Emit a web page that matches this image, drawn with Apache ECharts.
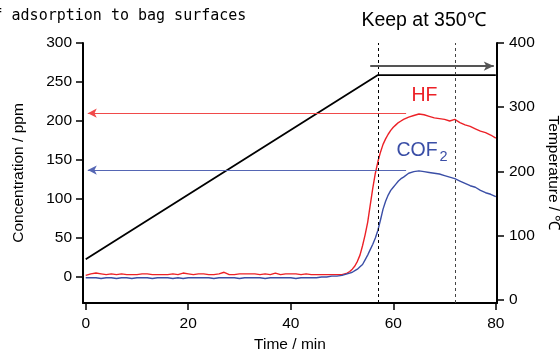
<!DOCTYPE html>
<html>
<head>
<meta charset="utf-8">
<script src="https://cdn.jsdelivr.net/npm/echarts@6/dist/echarts.min.js"></script>
<style>
html,body{margin:0;padding:0;background:#fff;}
#c{width:560px;height:349px;}
</style>
</head>
<body>
<div id="c"></div>
<script>
// ---- data ----
const times = [
  0,1,2,3,4,5,6,7,8,9,10,11,12,13,14,15,16,17,18,19,20,21,22,23,24,25,26,27,28,29,
  30,31,32,33,34,35,36,37,38,39,40,41,42,43,44,45,46,47,48,49,
  50,50.5,51,51.5,52,52.5,53,53.5,54,54.5,55,55.5,56,56.5,57,57.5,58,58.5,59,59.5,60,60.5,61,61.5,62,
  63,64,65,66,67,68,69,70,71,72,73,74,75,76,77,78,79,80
];
const hfValues = [
  2,4,5,4,3,4,3,4,3,3, 3,4,4,3,3,3,3,4,3,5, 4,3,4,4,3,3,4,6,3,3,
  4,4,4,4,3,4,3,5,3,4, 4,4,3,4,3,3,3,3,3,3,
  3,4,5,7,10,14,20,28,40,54,70,92,114,133,148,160,170,177,183,188,192,195,198,200,202,
  205,207,209,208,206,204,203,202,200,202,198,195,193,190,187,185,182,178
];
const cof2Values = [
  -1,-1,-1,-2,-1,-1,-2,-1,-1,-2, -1,-1,-1,-2,-1,-1,-1,-2,-1,-2, -1,-1,-1,-1,-1,-2,-1,-1,-1,-1,
  -2,-1,-1,-1,-1,-2,-1,-1,-1,-1, -1,-2,-1,-1,-1,-1,0,0,1,1,
  2,3,4,5,6,8,10,13,16,22,28,35,42,50,60,73,87,97,105,111,115,119,123,126,128,
  133,135,136,135,134,133,132,130,128,126,123,120,117,115,111,108,106,103
];
const tempTimes = [0, 57, 80];
const tempValues = [63, 350, 350];
const markerTimes = [57, 72];          // dashed vertical lines
const keepArrow = [55.5, 79.6, 364];   // from, to, temperature level
const hfLevel = 210, cof2Level = 137, levelFrom = 0.4, levelTo = 62.5;
const xTicks = [0, 20, 40, 60, 80];
const leftTicks = [0, 50, 100, 150, 200, 250, 300];
const rightTicks = [0, 100, 200, 300, 400];

// ---- chart ----
const FONT = '"Liberation Sans", Arial, sans-serif';
const RED = '#ec2127', BLUE = '#3a4ea6';
const chart = echarts.init(document.getElementById('c'), null, {renderer: 'canvas'});
const pairs = (xs, ys) => xs.map((x, i) => [x, ys[i]]);

const axisCommon = {
  axisLine: {show: true, onZero: false, lineStyle: {color: '#000', width: 2}},
  axisTick: {show: true, inside: false, length: 7, lineStyle: {color: '#000', width: 1.5}},
  splitLine: {show: false},
  nameLocation: 'middle',
  nameTextStyle: {fontFamily: FONT, fontSize: 15.5, color: '#000'}
};

chart.setOption({
  animation: false,
  backgroundColor: '#fff',
  grid: {left: 83, right: 63, top: 43, bottom: 46, containLabel: false, outerBoundsMode: 'none'},
  xAxis: Object.assign({}, axisCommon, {
    type: 'value', min: -0.53, max: 80.23,
    name: 'Time / min', nameGap: 31,
    axisTick: Object.assign({}, axisCommon.axisTick, {customValues: xTicks}),
    axisLabel: {customValues: xTicks, margin: 13, fontFamily: FONT, fontSize: 15.5, color: '#000'}
  }),
  yAxis: [
    Object.assign({}, axisCommon, {
      type: 'value', min: -33.4, max: 300, position: 'left',
      name: 'Concentration / ppm', nameGap: 56,
      axisTick: Object.assign({}, axisCommon.axisTick, {customValues: leftTicks}),
      axisLabel: {customValues: leftTicks, margin: 11, fontFamily: FONT, fontSize: 15.5, color: '#000'}
    }),
    Object.assign({}, axisCommon, {
      type: 'value', min: -5.3, max: 400, position: 'right',
      name: 'Temperature / ℃', nameGap: 48, nameRotate: -90,
      axisTick: Object.assign({}, axisCommon.axisTick, {customValues: rightTicks}),
      axisLabel: {customValues: rightTicks, margin: 12, fontFamily: FONT, fontSize: 15.5, color: '#000'}
    })
  ],
  series: [
    {
      name: 'HF', type: 'line', yAxisIndex: 0, symbol: 'none', silent: true,
      data: pairs(times, hfValues),
      lineStyle: {color: RED, width: 1.4},
      markLine: {
        silent: true, symbol: ['arrow', 'none'], symbolSize: [7, 9], label: {show: false},
        lineStyle: {color: '#f04a4a', width: 1, type: 'solid'},
        data: [[{coord: [levelFrom, hfLevel]}, {coord: [levelTo, hfLevel]}]]
      }
    },
    {
      name: 'COF2', type: 'line', yAxisIndex: 0, symbol: 'none', silent: true,
      data: pairs(times, cof2Values),
      lineStyle: {color: BLUE, width: 1.4},
      markLine: {
        silent: true, symbol: ['arrow', 'none'], symbolSize: [7, 9], label: {show: false},
        lineStyle: {color: '#5566b4', width: 1, type: 'solid'},
        data: [[{coord: [levelFrom, cof2Level]}, {coord: [levelTo, cof2Level]}]]
      }
    },
    {
      name: 'Temperature', type: 'line', yAxisIndex: 1, symbol: 'none', silent: true,
      data: pairs(tempTimes, tempValues),
      lineStyle: {color: '#000', width: 1.8},
      markLine: {
        silent: true, symbol: ['none', 'none'], label: {show: false},
        data: [
          {xAxis: markerTimes[0], lineStyle: {color: '#000', width: 1, type: [3, 3]}},
          {xAxis: markerTimes[1], lineStyle: {color: '#444', width: 1, type: [3, 3]}},
          [
            {coord: [keepArrow[0], keepArrow[2]], symbol: 'none'},
            {coord: [keepArrow[1], keepArrow[2]], symbol: 'arrow', symbolSize: [7, 10],
             lineStyle: {color: '#555', width: 2, type: 'solid'}}
          ]
        ]
      }
    }
  ],
  graphic: [
    {type: 'text', x: -6.5, y: 16, silent: true,
     style: {text: 'f adsorption to bag surfaces', font: '15px "DejaVu Sans Mono", monospace',
             fill: '#000', verticalAlign: 'middle', align: 'left'}},
    {type: 'text', x: 423.5, y: 21, silent: true,
     style: {text: 'Keep at 350℃', font: '19.5px ' + FONT, fill: '#000',
             verticalAlign: 'middle', align: 'center'}},
    {type: 'text', x: 411.5, y: 95.5, silent: true,
     style: {text: 'HF', font: '19.5px ' + FONT, fill: RED, verticalAlign: 'middle', align: 'left'}},
    {type: 'text', x: 396.5, y: 151, silent: true,
     style: {text: 'COF', font: '19.5px ' + FONT, fill: BLUE, verticalAlign: 'middle', align: 'left'}},
    {type: 'text', x: 439.5, y: 157, silent: true,
     style: {text: '2', font: '14.5px ' + FONT, fill: BLUE, verticalAlign: 'middle', align: 'left'}}
  ]
});
</script>
</body>
</html>
